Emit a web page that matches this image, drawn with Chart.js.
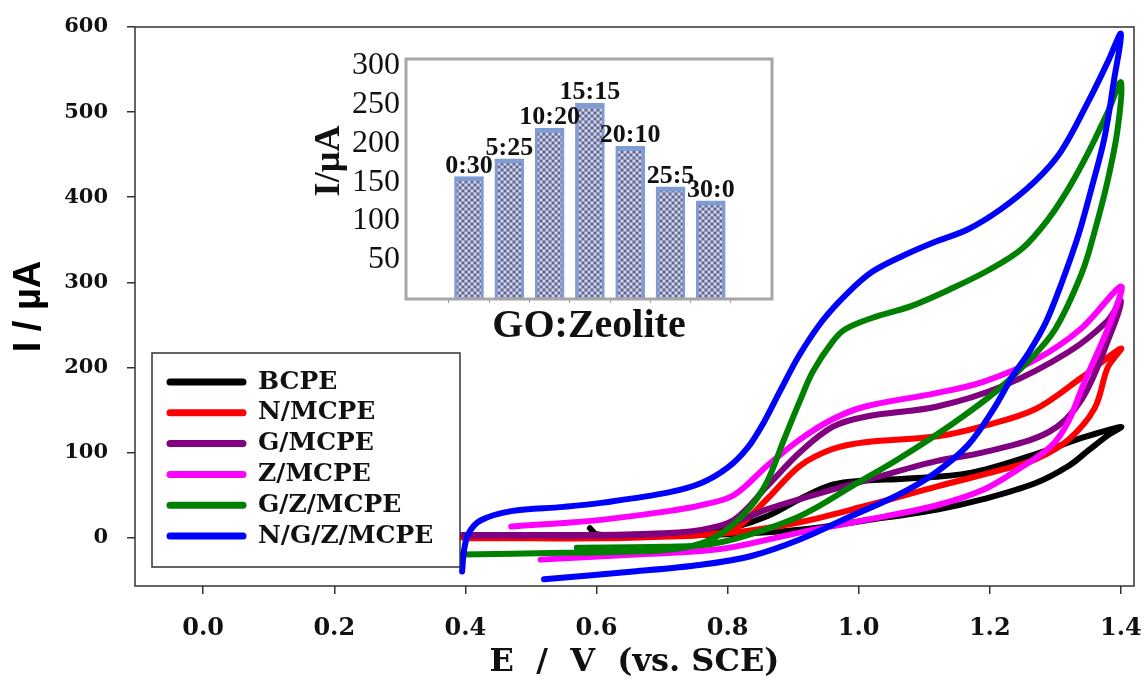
<!DOCTYPE html>
<html>
<head>
<meta charset="utf-8">
<script src="https://cdn.jsdelivr.net/npm/chart.js@4.4.1/dist/chart.umd.min.js"></script>
<style>
body { margin: 0; background: #fff; }
#wrap { position: relative; width: 1145px; height: 682px; }
#cv { position: absolute; left: 0; top: 0; }
#inset { position: absolute; left: 300px; top: 40px; }
</style>
</head>
<body>
<div id="wrap">
<canvas id="cv" width="1145" height="682"></canvas>
<canvas id="inset" width="480" height="312"></canvas>
</div>
<script>
// CV curves, potential in V vs SCE and current in uA (forward sweep then reverse)
var bcpeE = [0.59, 0.60, 0.65, 0.70, 0.76, 0.81, 0.86, 0.91, 0.96, 1.01, 1.07, 1.17, 1.27, 1.34, 1.40, 1.38, 1.35, 1.32, 1.27, 1.19, 1.12, 1.01, 0.91, 0.81, 0.70, 0.60];
var bcpeI = [11, 4, 3, 4, 6, 12, 25, 45, 62, 67, 69, 76, 98, 117, 130, 120, 102, 84, 64, 45, 33, 20, 9, 4, 2, 2];

var nE = [0.395, 0.50, 0.60, 0.70, 0.76, 0.81, 0.86, 0.91, 0.96, 1.01, 1.12, 1.19, 1.27, 1.34, 1.40, 1.38, 1.36, 1.32, 1.27, 1.22, 1.12, 1.01, 0.91, 0.81, 0.70, 0.60, 0.50, 0.40];
var nI = [0, 0, 0, 1, 3, 10, 45, 84, 104, 112, 119, 131, 151, 188, 222, 200, 152, 115, 92, 80, 60, 37, 18, 6, 1, -1, -1, -1];

var gE = [0.395, 0.50, 0.60, 0.70, 0.76, 0.81, 0.86, 0.91, 0.96, 1.01, 1.12, 1.22, 1.32, 1.38, 1.40, 1.385, 1.34, 1.29, 1.19, 1.12, 1.01, 0.91, 0.86, 0.81, 0.76, 0.70, 0.60, 0.50, 0.40];
var gI = [3, 3, 3, 5, 9, 21, 60, 100, 130, 142, 154, 178, 218, 255, 278, 241, 162, 124, 100, 90, 67, 45, 33, 18, 9, 4, 2, 2, 2];

var zE = [0.47, 0.55, 0.61, 0.71, 0.76, 0.81, 0.86, 0.91, 0.96, 1.01, 1.12, 1.19, 1.27, 1.34, 1.40, 1.385, 1.344, 1.319, 1.293, 1.243, 1.19, 1.115, 1.013, 0.911, 0.81, 0.76, 0.66, 0.515];
var zI = [13, 17, 21, 31, 38, 50, 84, 115, 139, 154, 170, 183, 209, 246, 295, 255, 182, 135, 107, 80, 56, 37, 21, 6, -11, -16, -20, -26];

var gzE = [0.395, 0.55, 0.70, 0.76, 0.80, 0.835, 0.86, 0.886, 0.91, 0.93, 0.96, 0.98, 1.02, 1.08, 1.14, 1.20, 1.25, 1.29, 1.32, 1.35, 1.38, 1.40, 1.395, 1.38, 1.36, 1.34, 1.30, 1.26, 1.21, 1.14, 1.06, 1.00, 0.91, 0.81, 0.76, 0.70, 0.57];
var gzI = [-20, -18, -15, -7, 10, 36, 65, 115, 160, 195, 230, 245, 258, 272, 292, 315, 340, 375, 410, 452, 500, 535, 480, 420, 360, 310, 245, 208, 172, 132, 92, 65, 25, -2, -9, -11, -12];

var ngzE = [0.395, 0.398, 0.405, 0.423, 0.47, 0.55, 0.61, 0.71, 0.76, 0.80, 0.83, 0.855, 0.88, 0.91, 0.945, 0.98, 1.02, 1.07, 1.115, 1.166, 1.217, 1.268, 1.308, 1.35, 1.38, 1.40, 1.39, 1.375, 1.355, 1.335, 1.31, 1.285, 1.26, 1.235, 1.205, 1.166, 1.115, 1.06, 0.988, 0.911, 0.835, 0.76, 0.656, 0.52];
var ngzI = [-40, -15, 5, 20, 31, 36, 41, 53, 64, 82, 105, 135, 172, 215, 255, 285, 312, 332, 347, 362, 386, 418, 453, 512, 559, 592, 540, 470, 410, 355, 300, 252, 218, 190, 150, 108, 75, 50, 25, -2, -22, -32, -40, -49];

var names = ["BCPE", "N/MCPE", "G/MCPE", "Z/MCPE", "G/Z/MCPE", "N/G/Z/MCPE"];
var colors = ["#000000", "#ff0000", "#800080", "#ff00ff", "#008000", "#0000ff"];
var xTicks = [0, 0.2, 0.4, 0.6, 0.8, 1.0, 1.2, 1.4];
var yTicks = [0, 100, 200, 300, 400, 500, 600];

// inset: current vs GO:Zeolite ratio
var ratios = ["0:30", "5:25", "10:20", "15:15", "20:10", "25:5", "30:0"];
var peakI = [157, 180, 219, 251, 196, 144, 126];
var insetTicks = [50, 100, 150, 200, 250, 300];

function pts(E, I) {
    return E.map(function (e, i) { return {x: e, y: I[i]}; });
}

var curves = [[bcpeE, bcpeI], [nE, nI], [gE, gI], [zE, zI], [gzE, gzI], [ngzE, ngzI]];
var ds = curves.map(function (c, i) {
    return {
        label: names[i],
        data: pts(c[0], c[1]),
        borderColor: colors[i],
        borderWidth: 6,
        showLine: true,
        pointRadius: 0,
        tension: 0.35,
        borderCapStyle: 'round',
        borderJoinStyle: 'round',
        order: 5 - i
    };
});

// box round the plot area
var frame = {
    id: 'frame',
    afterDatasetsDraw: function (chart, args, o) {
        var a = chart.chartArea, ctx = chart.ctx;
        ctx.save();
        ctx.strokeStyle = o.color;
        ctx.lineWidth = o.width;
        ctx.strokeRect(a.left, a.top, a.right - a.left, a.bottom - a.top);
        ctx.restore();
    }
};

// legend box inside the plot, lower left
var cvLegend = {
    id: 'cvLegend',
    afterDraw: function (chart, args, o) {
        var ctx = chart.ctx;
        ctx.save();
        ctx.fillStyle = '#fff';
        ctx.fillRect(o.left, o.top, o.width, o.height);
        ctx.strokeStyle = '#333';
        ctx.lineWidth = 1.5;
        ctx.strokeRect(o.left, o.top, o.width, o.height);
        chart.data.datasets.forEach(function (d, i) {
            var y = o.top + o.first + i * o.step;
            ctx.strokeStyle = d.borderColor;
            ctx.lineWidth = 7;
            ctx.lineCap = 'round';
            ctx.beginPath();
            ctx.moveTo(o.left + 18, y);
            ctx.lineTo(o.left + 91, y);
            ctx.stroke();
            ctx.fillStyle = '#111';
            ctx.font = 'bold 25px "DejaVu Serif"';
            ctx.textBaseline = 'middle';
            ctx.fillText(d.label, o.left + 106, y);
        });
        ctx.restore();
    }
};

var tickFont = {family: 'DejaVu Serif', weight: 'bold', size: 24};

new Chart(document.getElementById("cv"), {
    type: 'scatter',
    data: {datasets: ds},
    options: {
        responsive: false,
        animation: false,
        devicePixelRatio: 1,
        layout: {padding: {top: 27, right: 11, left: 0, bottom: 0}},
        plugins: {
            legend: {display: false},
            tooltip: {enabled: false},
            frame: {color: '#333', width: 1.5},
            cvLegend: {left: 152, top: 353, width: 308, height: 214, first: 29, step: 30.8}
        },
        scales: {
            x: {
                type: 'linear',
                min: -0.104,
                max: 1.42,
                afterBuildTicks: function (s) { s.ticks = xTicks.map(function (v) { return {value: v}; }); },
                afterFit: function (s) { s.height = 96; s.paddingLeft = 0; s.paddingRight = 0; },
                grid: {drawOnChartArea: false, tickLength: 8, color: '#333', lineWidth: 1.5},
                border: {display: false},
                ticks: {
                    padding: 20, color: '#111', font: tickFont, maxRotation: 0, autoSkip: false,
                    callback: function (v) { return v.toFixed(1); }
                },
                title: {
                    display: true, text: 'E  /  V  (vs. SCE)', color: '#111',
                    font: {family: 'DejaVu Serif', weight: 'bold', size: 32},
                    padding: {top: 0, bottom: 0}
                }
            },
            y: {
                min: -57,
                max: 600,
                afterBuildTicks: function (s) { s.ticks = yTicks.map(function (v) { return {value: v}; }); },
                afterFit: function (s) { s.width = 135; s.paddingTop = 0; s.paddingBottom = 0; },
                grid: {drawOnChartArea: false, tickLength: 8, color: '#333', lineWidth: 1.5},
                border: {display: false},
                ticks: {padding: 19, color: '#111', font: {family: 'DejaVu Serif', weight: 'bold', size: 21}},
                title: {
                    display: true, text: 'I / µA', color: '#000',
                    font: {family: 'Liberation Sans', weight: 'bold', size: 38},
                    padding: {top: 7, bottom: 0}
                }
            }
        }
    },
    plugins: [frame, cvLegend]
});

// dotted fill like the original bars
function dotPattern() {
    var c = document.createElement('canvas');
    c.width = 6; c.height = 6;
    var g = c.getContext('2d');
    g.fillStyle = '#9a9dbd'; g.fillRect(0, 0, 6, 6);
    g.fillStyle = '#5f6596'; g.fillRect(0, 0, 2, 2); g.fillRect(3, 3, 2, 2);
    g.fillStyle = '#d6d9e8'; g.fillRect(3, 0, 2, 2); g.fillRect(0, 3, 2, 2);
    return g.createPattern(c, 'repeat');
}

// ratio names above each bar
var barNames = {
    id: 'barNames',
    afterDatasetsDraw: function (chart) {
        var ctx = chart.ctx;
        ctx.save();
        ctx.font = 'bold 26px "Liberation Serif"';
        ctx.fillStyle = '#111';
        ctx.textAlign = 'center';
        ctx.textBaseline = 'alphabetic';
        chart.getDatasetMeta(0).data.forEach(function (bar, i) {
            ctx.fillText(ratios[i], bar.x, bar.y - 4);
        });
        ctx.restore();
    }
};

new Chart(document.getElementById("inset"), {
    type: 'bar',
    data: {
        datasets: [{
            data: peakI.map(function (v, i) { return {x: i, y: v}; }),
            backgroundColor: dotPattern(),
            borderColor: '#7f9dd3',
            borderWidth: {top: 5, left: 3, right: 3, bottom: 0},
            borderSkipped: false,
            barThickness: 29
        }]
    },
    options: {
        responsive: false,
        animation: false,
        devicePixelRatio: 1,
        layout: {padding: {top: 19, right: 8, left: 0, bottom: 0}},
        plugins: {
            legend: {display: false},
            tooltip: {enabled: false},
            frame: {color: '#a6a6a6', width: 3}
        },
        scales: {
            x: {
                type: 'linear',
                min: -0.915,
                max: 6.87,
                afterBuildTicks: function (s) { s.ticks = ratios.map(function (r, i) { return {value: i}; }); },
                afterFit: function (s) { s.height = 53; s.paddingLeft = 0; s.paddingRight = 0; },
                grid: {drawOnChartArea: false, tickLength: 4, color: '#999'},
                border: {display: false},
                ticks: {display: false},
                title: {
                    display: true, text: 'GO:Zeolite', color: '#111',
                    font: {family: 'Liberation Serif', weight: 'bold', size: 40},
                    padding: {top: 0, bottom: 1}
                }
            },
            y: {
                min: 0,
                max: 308,
                afterBuildTicks: function (s) { s.ticks = insetTicks.map(function (v) { return {value: v}; }); },
                afterFit: function (s) { s.width = 106; s.paddingTop = 0; s.paddingBottom = 0; },
                grid: {display: false, drawTicks: false},
                border: {display: false},
                ticks: {padding: 6, color: '#111', font: {family: 'Liberation Serif', size: 32}},
                title: {
                    display: true, text: '    I/µA', color: '#111',
                    font: {family: 'Liberation Serif', weight: 'bold', size: 36},
                    padding: {top: 8, bottom: 0}
                }
            }
        }
    },
    plugins: [frame, barNames]
});
</script>
</body>
</html>
